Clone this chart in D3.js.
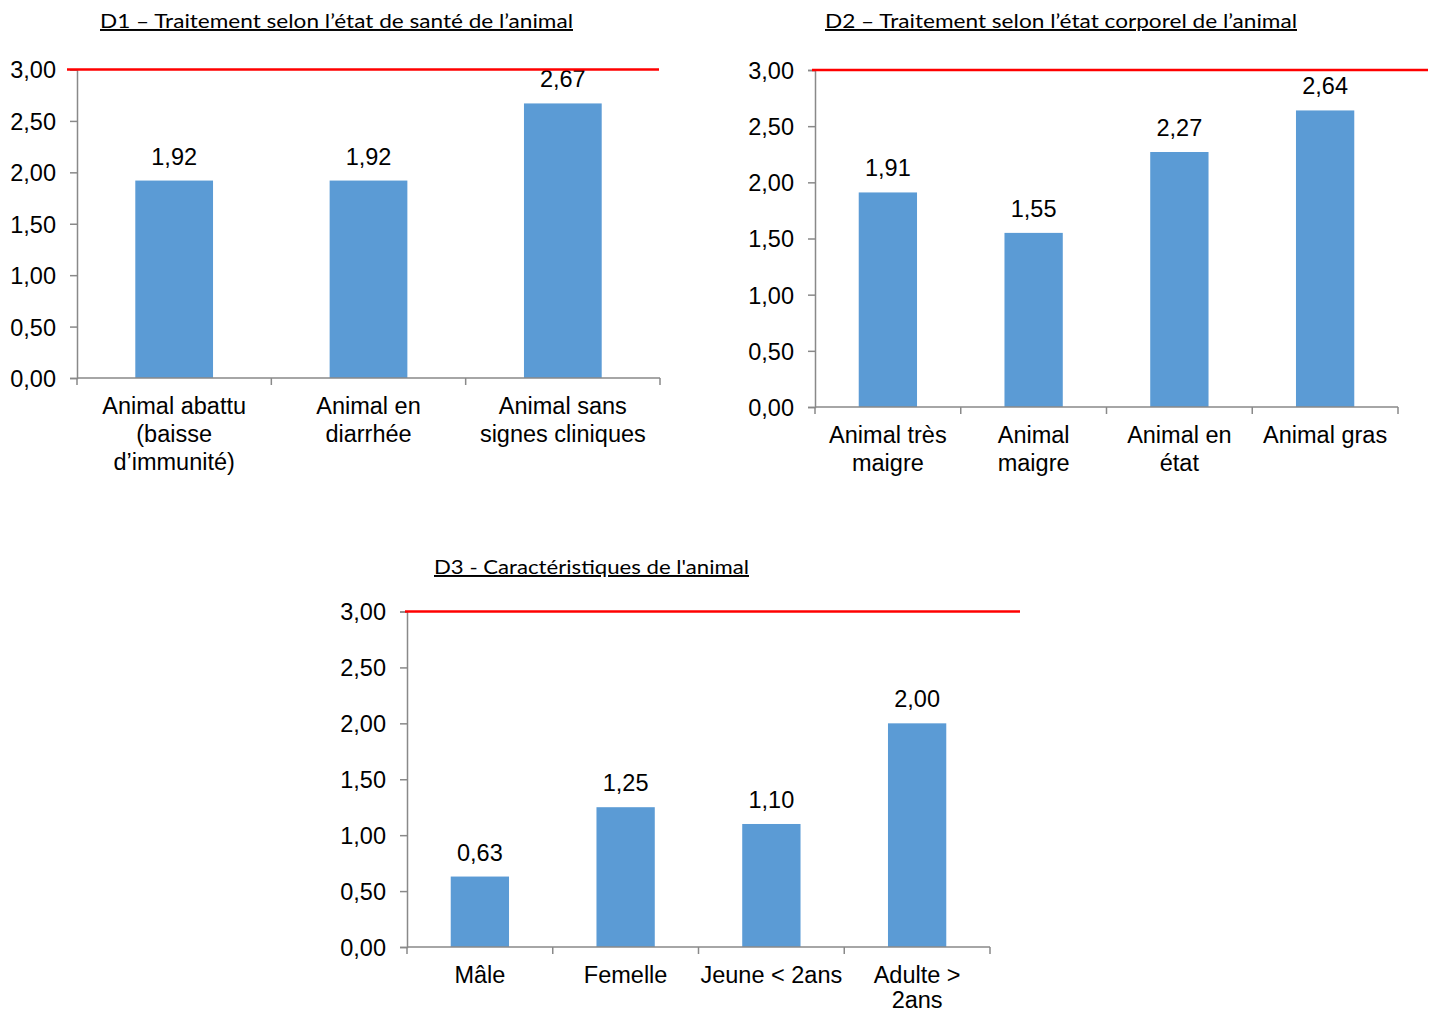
<!DOCTYPE html>
<html>
<head>
<meta charset="utf-8">
<script src="https://cdn.jsdelivr.net/npm/d3@7"></script>
<style>
  html, body { margin: 0; padding: 0; background: #ffffff; }
  svg { display: block; }
  .tick-label, .cat-label, .val-label { font-family: "Liberation Sans", Arial, sans-serif; font-size: 23.5px; fill: #000; }
  .title { font-family: Lato, "Open Sans", sans-serif; font-size: 19.5px; fill: #000; text-decoration: underline; }
</style>
</head>
<body>
<svg id="chart" width="1437" height="1014"></svg>
<script>
// D1 – treatment by health status
const d1Title = "D1 – Traitement selon l’état de santé de l’animal";
const d1Categories = [["Animal abattu", "(baisse", "d’immunité)"], ["Animal en", "diarrhée"], ["Animal sans", "signes cliniques"]];
const d1Values = [1.92, 1.92, 2.67];

// D2 – treatment by body condition
const d2Title = "D2 – Traitement selon l’état corporel de l’animal";
const d2Categories = [["Animal très", "maigre"], ["Animal", "maigre"], ["Animal en", "état"], ["Animal gras"]];
const d2Values = [1.91, 1.55, 2.27, 2.64];

// D3 – animal characteristics
const d3Title = "D3 - Caractéristiques de l'animal";
const d3Categories = [["Mâle"], ["Femelle"], ["Jeune < 2ans"], ["Adulte >", "2ans"]];
const d3Values = [0.63, 1.25, 1.10, 2.00];

// Shared value axis and reference threshold
const yTicks = [0, 0.5, 1, 1.5, 2, 2.5, 3];
const yMax = 3;
const threshold = 3;

const fmt = v => d3.format(".2f")(v).replace(".", ",");
const svg = d3.select("#chart");

function drawPanel(p) {
  const g = svg.append("g");
  const x = d3.scaleBand().domain(d3.range(p.values.length)).range([p.left, p.right]).paddingInner(0.6).paddingOuter(0.3);
  const y = d3.scaleLinear().domain([0, yMax]).range([p.bottom, p.top]);

  // title
  g.append("text").attr("class", "title")
    .attr("x", p.titleX).attr("y", p.titleY)
    .attr("text-anchor", "middle")
    .attr("textLength", p.titleW).attr("lengthAdjust", "spacingAndGlyphs")
    .text(p.title);

  // bars
  g.selectAll("rect.bar").data(p.values).join("rect")
    .attr("class", "bar")
    .attr("x", (d, i) => x(i))
    .attr("width", x.bandwidth())
    .attr("y", d => y(d))
    .attr("height", d => y(0) - y(d))
    .attr("fill", "#5b9bd5");

  // value labels
  g.selectAll("text.val-label").data(p.values).join("text")
    .attr("class", "val-label")
    .attr("x", (d, i) => x(i) + x.bandwidth() / 2)
    .attr("y", d => y(d) - 16)
    .attr("text-anchor", "middle")
    .text(d => fmt(d));

  // y axis
  const yAxis = d3.axisLeft(y).tickValues(yTicks).tickSize(7).tickPadding(14).tickFormat(fmt);
  const ya = g.append("g").attr("transform", `translate(${p.left},0)`).call(yAxis);
  ya.select(".domain").attr("stroke", "#898989").attr("stroke-width", 1.5);
  ya.selectAll(".tick line").attr("stroke", "#898989").attr("stroke-width", 1.5);
  ya.selectAll(".tick text").attr("class", "tick-label").attr("dy", "0.36em");

  // x axis with boundary ticks
  const n = p.values.length;
  const step = (p.right - p.left) / n;
  g.append("line").attr("x1", p.left).attr("x2", p.right).attr("y1", y(0)).attr("y2", y(0))
    .attr("stroke", "#898989").attr("stroke-width", 1.5);
  g.selectAll("line.xtick").data(d3.range(n + 1)).join("line")
    .attr("class", "xtick")
    .attr("x1", i => p.left + i * step).attr("x2", i => p.left + i * step)
    .attr("y1", y(0)).attr("y2", y(0) + 7)
    .attr("stroke", "#898989").attr("stroke-width", 1.5);

  // category labels
  p.categories.forEach((lines, i) => {
    const cx = x(i) + x.bandwidth() / 2;
    const t = g.append("text").attr("class", "cat-label").attr("text-anchor", "middle")
      .attr("x", cx).attr("y", y(0) + 36);
    lines.forEach((ln, k) => t.append("tspan").attr("x", cx).attr("dy", k === 0 ? 0 : p.lineGap).text(ln));
  });

  // threshold line
  g.append("line")
    .attr("x1", p.lineStart).attr("x2", p.lineEnd)
    .attr("y1", y(threshold)).attr("y2", y(threshold))
    .attr("stroke", "#ff0000").attr("stroke-width", 2.5);
}

drawPanel({ title: d1Title, categories: d1Categories, values: d1Values,
  left: 77, right: 660, top: 69.5, bottom: 378, lineStart: 67, lineEnd: 659, lineGap: 28,
  titleX: 336.5, titleY: 28, titleW: 473 });
drawPanel({ title: d2Title, categories: d2Categories, values: d2Values,
  left: 815, right: 1398, top: 70, bottom: 407, lineStart: 812, lineEnd: 1428, lineGap: 28,
  titleX: 1061, titleY: 28, titleW: 472 });
drawPanel({ title: d3Title, categories: d3Categories, values: d3Values,
  left: 407, right: 990, top: 611.5, bottom: 947, lineStart: 405, lineEnd: 1020, lineGap: 25,
  titleX: 591.5, titleY: 574, titleW: 315 });
</script>
</body>
</html>
